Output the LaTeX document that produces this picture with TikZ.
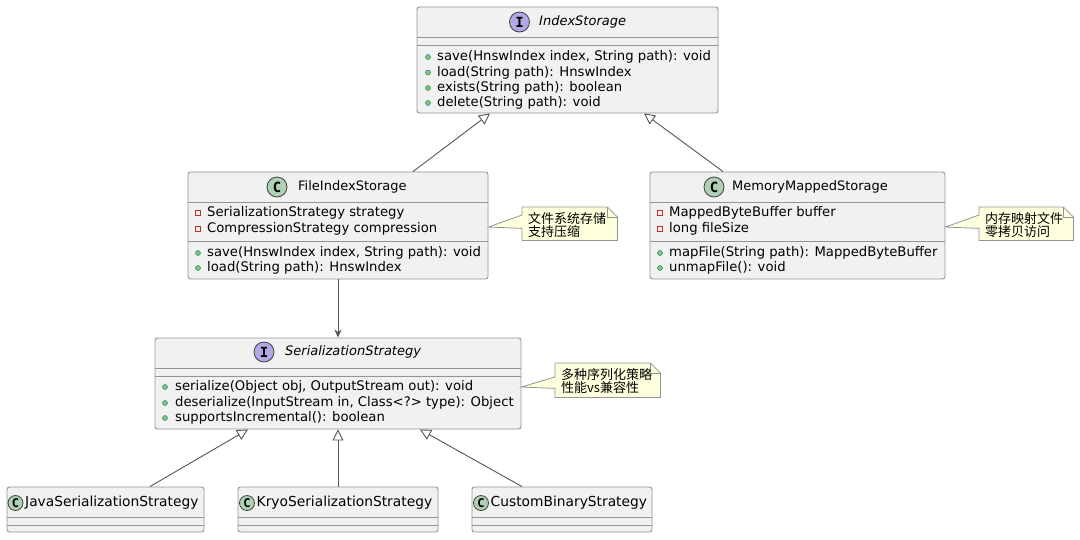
\documentclass[tikz,border=0pt]{standalone}
\usepackage{fontspec}
\setmainfont{DejaVu Sans}
\newfontfamily\cjkfont{Noto Sans CJK SC}
\newfontfamily\iconfont{DejaVu Sans Mono}
\usetikzlibrary{arrows.meta}
\definecolor{boxfill}{HTML}{F1F1F1}
\definecolor{boxline}{HTML}{949494}
\definecolor{ifill}{HTML}{B4A7E5}
\definecolor{cfill}{HTML}{ADD1B2}
\definecolor{pubfill}{HTML}{84BE84}
\definecolor{publine}{HTML}{038048}
\definecolor{privline}{HTML}{C82930}
\definecolor{notefill}{HTML}{FEFFDD}
\definecolor{linkcol}{HTML}{555555}
\begin{document}
\begin{tikzpicture}[x=1pt,y=-1pt]
\tikzset{cls/.style={draw=boxline,fill=boxfill,
                     rounded corners=2.5pt,
                     line width=0.9pt,
                     inner sep=0pt},
         sep/.style={draw=boxline,line width=0.9pt},
         iicon/.style={circle,draw=black!75,fill=ifill,line width=0.8pt,
                       minimum size=20pt,inner sep=0pt,
                       font=\iconfont\bfseries\fontsize{14}{14}\selectfont},
         cicon/.style={iicon,fill=cfill},
         title/.style={anchor=west,inner sep=0pt,text height=9.5pt,text depth=2.5pt,
                       font=\fontsize{13}{15}\selectfont},
         mem/.style={title,font=\fontsize{13.2}{15}\selectfont},
         pub/.style={circle,draw=publine,fill=pubfill,line width=0.4pt,
                     minimum size=5pt,inner sep=0pt},
         priv/.style={rectangle,draw=privline,line width=0.7pt,
                      minimum size=5.5pt,inner sep=0pt},
         notearea/.style={anchor=north west,inner sep=0pt},
         notebox/.style={draw=boxline,fill=notefill,line width=0.8pt},
         notetext/.style={inner sep=0pt,align=left,
                          font=\cjkfont\fontsize{13}{13.5}\selectfont},
         inherit/.style={draw=linkcol,line width=0.9pt,
                         -{Triangle[open,fill=white,length=11pt,width=11pt]}},
         uses/.style={draw=linkcol,line width=0.9pt,
                      -{Stealth[length=8pt,width=7pt,inset=2.5pt]}}
}
\useasboundingbox[fill=white] (0,0) rectangle (1080,539);
% IndexStorage
\node[cls,minimum width=301pt,minimum height=106pt] (IS) at (567.5,60) {};
\draw[sep] (IS.west |- 0,37) -- (IS.east |- 0,37);
\draw[sep] (IS.west |- 0,45) -- (IS.east |- 0,45);
\node[iicon] (ISi) at (519.5,22) {I};
\node[title,font=\fontsize{13}{15}\selectfont\itshape] (ISt) at (539,22) {IndexStorage};
\node[pub] at (428,57)  {};
\node[pub] at (428,72.5){};
\node[pub] at (428,88)  {};
\node[pub] at (428,103) {};
\node[mem] (ISm1) at (437,57)   {save(HnswIndex index, String path): void};
\node[mem] (ISm2) at (437,72.5) {load(String path): HnswIndex};
\node[mem] (ISm3) at (437,88)   {exists(String path): boolean};
\node[mem] (ISm4) at (437,103)  {delete(String path): void};
% FileIndexStorage
\node[cls,minimum width=300pt,minimum height=107pt] (FIS) at (338,225.5) {};
\draw[sep] (FIS.west |- 0,202) -- (FIS.east |- 0,202);
\draw[sep] (FIS.west |- 0,241) -- (FIS.east |- 0,241);
\node[cicon] (FISi) at (277,187) {C};
\node[title] (FISt) at (298,187) {FileIndexStorage};
\node[priv] at (198,213) {};
\node[priv] at (198,229) {};
\node[pub]  at (198,253) {};
\node[pub]  at (198,268) {};
\node[mem] (FISa1) at (207,213) {SerializationStrategy strategy};
\node[mem] (FISa2) at (207,229) {CompressionStrategy compression};
\node[mem] (FISm1) at (207,253) {save(HnswIndex index, String path): void};
\node[mem] (FISm2) at (207,268) {load(String path): HnswIndex};
% MemoryMappedStorage
\node[cls,minimum width=295pt,minimum height=107pt] (MMS) at (797.5,225.5) {};
\draw[sep] (MMS.west |- 0,202) -- (MMS.east |- 0,202);
\draw[sep] (MMS.west |- 0,241) -- (MMS.east |- 0,241);
\node[cicon] (MMSi) at (714,187) {C};
\node[title] (MMSt) at (732,187) {MemoryMappedStorage};
\node[priv] at (660,213) {};
\node[priv] at (660,229) {};
\node[pub]  at (660,253) {};
\node[pub]  at (660,268) {};
\node[mem] (MMSa1) at (669,213) {MappedByteBuffer buffer};
\node[mem] (MMSa2) at (669,229) {long fileSize};
\node[mem] (MMSm1) at (669,253) {mapFile(String path): MappedByteBuffer};
\node[mem] (MMSm2) at (669,268) {unmapFile(): void};
% SerializationStrategy
\node[cls,minimum width=366pt,minimum height=91pt] (SS) at (338,383.5) {};
\draw[sep] (SS.west |- 0,368) -- (SS.east |- 0,368);
\draw[sep] (SS.west |- 0,376) -- (SS.east |- 0,376);
\node[iicon] (SSi) at (264,352) {I};
\node[title,font=\fontsize{13}{15}\selectfont\itshape] (SSt) at (285,352) {SerializationStrategy};
\node[pub] at (165,387) {};
\node[pub] at (165,403) {};
\node[pub] at (165,418) {};
\node[mem] (SSm1) at (175,387) {serialize(Object obj, OutputStream out): void};
\node[mem] (SSm2) at (175,403) {deserialize(InputStream in, Class<?> type): Object};
\node[mem] (SSm3) at (175,418) {supportsIncremental(): boolean};
% strategies
\node[cls,minimum width=197pt,minimum height=45pt] (JSS) at (105.5,509.5) {};
\draw[sep] (JSS.west |- 0,517) -- (JSS.east |- 0,517);
\draw[sep] (JSS.west |- 0,525) -- (JSS.east |- 0,525);
\node[cicon,minimum size=15pt,font=\iconfont\bfseries\fontsize{12}{12}\selectfont] (JSSi) at (15.5,503) {C};
\node[title,font=\fontsize{13.8}{15}\selectfont] (JSSt) at (25,503) {JavaSerializationStrategy};
\node[cls,minimum width=200pt,minimum height=45pt] (KSS) at (338,509.5) {};
\draw[sep] (KSS.west |- 0,517) -- (KSS.east |- 0,517);
\draw[sep] (KSS.west |- 0,525) -- (KSS.east |- 0,525);
\node[cicon,minimum size=15pt,font=\iconfont\bfseries\fontsize{12}{12}\selectfont] (KSSi) at (247,503) {C};
\node[title,font=\fontsize{13.8}{15}\selectfont] (KSSt) at (256.5,503) {KryoSerializationStrategy};
\node[cls,minimum width=180pt,minimum height=45pt] (CBS) at (562,509.5) {};
\draw[sep] (CBS.west |- 0,517) -- (CBS.east |- 0,517);
\draw[sep] (CBS.west |- 0,525) -- (CBS.east |- 0,525);
\node[cicon,minimum size=15pt,font=\iconfont\bfseries\fontsize{12}{12}\selectfont] (CBSi) at (481,503) {C};
\node[title,font=\fontsize{13.8}{15}\selectfont] (CBSt) at (490.5,503) {CustomBinaryStrategy};
% notes
\node[notearea,minimum width=95pt,minimum height=33pt] (N1) at (522,207) {};
\draw[notebox] (N1.north west) -- ([xshift=-10pt]N1.north east) -- ([yshift=-10pt]N1.north east)
  -- (N1.south east) -- (N1.south west) -- ([yshift=12pt]N1.south west)
  -- (FIS.east |- 0,227) -- ([yshift=-8pt]N1.north west) -- cycle;
\draw[notebox,fill=none] ([xshift=-10pt]N1.north east) |- ([yshift=-10pt]N1.north east);
\node[notetext,anchor=north west] (N1t) at (528,212) {文件系统存储\\支持压缩};
\node[notearea,minimum width=94pt,minimum height=33pt] (N2) at (979,207) {};
\draw[notebox] (N2.north west) -- ([xshift=-10pt]N2.north east) -- ([yshift=-10pt]N2.north east)
  -- (N2.south east) -- (N2.south west) -- ([yshift=12pt]N2.south west)
  -- (MMS.east |- 0,227) -- ([yshift=-8pt]N2.north west) -- cycle;
\draw[notebox,fill=none] ([xshift=-10pt]N2.north east) |- ([yshift=-10pt]N2.north east);
\node[notetext,anchor=north west] (N2t) at (985,212) {内存映射文件\\零拷贝访问};
\node[notearea,minimum width=105pt,minimum height=34pt] (N3) at (555,363) {};
\draw[notebox] (N3.north west) -- ([xshift=-10pt]N3.north east) -- ([yshift=-10pt]N3.north east)
  -- (N3.south east) -- (N3.south west) -- ([yshift=9pt]N3.south west)
  -- (SS.east |- 0,387) -- ([yshift=-14pt]N3.north west) -- cycle;
\draw[notebox,fill=none] ([xshift=-10pt]N3.north east) |- ([yshift=-10pt]N3.north east);
\node[notetext,anchor=north west] (N3t) at (561,368) {多种序列化策略\\性能vs兼容性};
% links
\draw[inherit] ([xshift=75pt]FIS.north) -- ([xshift=-77.5pt]IS.south);
\draw[inherit] ([xshift=-74.5pt]MMS.north) -- ([xshift=76.5pt]IS.south);
\draw[uses] (FIS.south) -- (SS.north);
\draw[inherit] ([xshift=44.5pt]JSS.north) -- ([xshift=-90pt]SS.south);
\draw[inherit] (KSS.north) -- (SS.south);
\draw[inherit] ([xshift=-40pt]CBS.north) -- ([xshift=82pt]SS.south);
\end{tikzpicture}
\end{document}
